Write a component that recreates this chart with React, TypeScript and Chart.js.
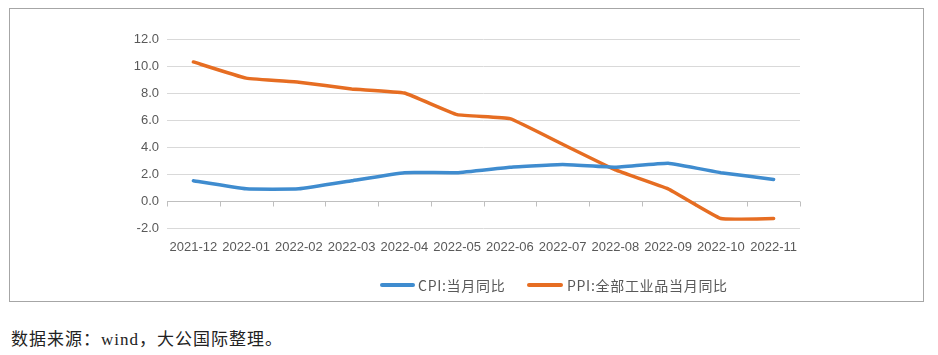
import React, { useEffect, useRef } from "react";
import { Chart, registerables } from "chart.js";

Chart.register(...registerables);

const categories = [
  "2021-12", "2022-01", "2022-02", "2022-03", "2022-04", "2022-05",
  "2022-06", "2022-07", "2022-08", "2022-09", "2022-10", "2022-11",
];
const cpiValues = [1.5, 0.9, 0.9, 1.5, 2.1, 2.1, 2.5, 2.7, 2.5, 2.8, 2.1, 1.6];
const ppiValues = [10.3, 9.1, 8.8, 8.3, 8.0, 6.4, 6.1, 4.2, 2.3, 0.9, -1.3, -1.3];
const cpiLabel = "CPI:当月同比";
const ppiLabel = "PPI:全部工业品当月同比";
const sourceText = "数据来源：wind，大公国际整理。";

const BLUE = "#3f8ccf";
const ORANGE = "#e66d22";
const TEXT = "#595959";

const zeroAxisPlugin = {
  id: "zeroAxis",
  beforeDatasetsDraw(chart: any) {
    const { ctx, chartArea, scales } = chart;
    const y = Math.round(scales.y.getPixelForValue(0)) + 0.5;
    const n = categories.length;
    const w = (chartArea.right - chartArea.left) / n;
    ctx.save();
    ctx.strokeStyle = "#bfbfbf";
    ctx.lineWidth = 1;
    ctx.beginPath();
    ctx.moveTo(chartArea.left, y);
    ctx.lineTo(chartArea.right, y);
    for (let i = 0; i <= n; i++) {
      const x = Math.round(chartArea.left + i * w) + 0.5;
      ctx.moveTo(x, y);
      ctx.lineTo(x, y + 5);
    }
    ctx.stroke();
    ctx.restore();
  },
};

export default function App() {
  const ref = useRef<HTMLCanvasElement | null>(null);
  useEffect(() => {
    if (!ref.current) return;
    const chart = new Chart(ref.current, {
      type: "line",
      data: {
        labels: categories,
        datasets: [
          {
            label: cpiLabel,
            data: cpiValues,
            borderColor: BLUE,
            backgroundColor: BLUE,
            borderWidth: 3.5,
            pointRadius: 0,
            tension: 0.1,
            borderCapStyle: "round",
            borderJoinStyle: "round",
          },
          {
            label: ppiLabel,
            data: ppiValues,
            borderColor: ORANGE,
            backgroundColor: ORANGE,
            borderWidth: 3.5,
            pointRadius: 0,
            tension: 0.1,
            borderCapStyle: "round",
            borderJoinStyle: "round",
          },
        ],
      },
      options: {
        responsive: false,
        animation: false,
        layout: { padding: { top: 31, right: 130, left: 0, bottom: 0 } },
        plugins: { legend: { display: false }, tooltip: { enabled: false } },
        scales: {
          x: {
            offset: true,
            grid: { display: false, drawTicks: false },
            border: { display: false },
            ticks: {
              color: TEXT,
              font: { family: "'Liberation Sans', Arial, sans-serif", size: 13 },
              padding: 12,
              maxRotation: 0,
              autoSkip: false,
            },
            afterFit: (s: any) => { s.height = 80; },
          },
          y: {
            min: -2,
            max: 12,
            grid: { color: "#d9d9d9", lineWidth: 1, drawTicks: false },
            border: { display: false },
            ticks: {
              stepSize: 2,
              color: TEXT,
              padding: 8,
              font: { family: "'Liberation Sans', Arial, sans-serif", size: 13 },
              callback: (v: any) => Number(v).toFixed(1),
            },
            afterFit: (s: any) => { s.width = 159; },
          },
        },
      },
      plugins: [zeroAxisPlugin],
    });
    return () => chart.destroy();
  }, []);

  const legendText: React.CSSProperties = {
    position: "absolute",
    top: 268,
    height: 18,
    lineHeight: "18px",
    fontSize: 14,
    fontFamily: "'Noto Sans CJK SC', sans-serif",
    color: TEXT,
    whiteSpace: "nowrap",
  };

  return (
    <div style={{ position: "relative", width: 922, height: 347 }}>
      <div
        style={{
          position: "absolute",
          left: 1,
          top: 0,
          width: 915,
          height: 294,
          border: "1px solid #a6a6a6",
          boxSizing: "border-box",
        }}
      />
      <canvas
        ref={ref}
        width={922}
        height={300}
        style={{ position: "absolute", left: 0, top: 0, width: 922, height: 300 }}
      />
      <div style={{ position: "absolute", left: 372, top: 275, width: 35, height: 4, borderRadius: 2, background: BLUE }} />
      <div style={{ ...legendText, left: 410, letterSpacing: 0.7 }}>{cpiLabel}</div>
      <div style={{ position: "absolute", left: 519, top: 275, width: 36, height: 4, borderRadius: 2, background: ORANGE }} />
      <div style={{ ...legendText, left: 559, letterSpacing: 0.7 }}>{ppiLabel}</div>
      <div
        style={{
          position: "absolute",
          left: 3,
          top: 322,
          fontSize: 17,
          letterSpacing: 1,
          lineHeight: "20px",
          fontFamily: "'Liberation Serif', 'Noto Sans CJK SC', serif",
          color: "#222",
          whiteSpace: "nowrap",
        }}
      >
        {sourceText}
      </div>
    </div>
  );
}
